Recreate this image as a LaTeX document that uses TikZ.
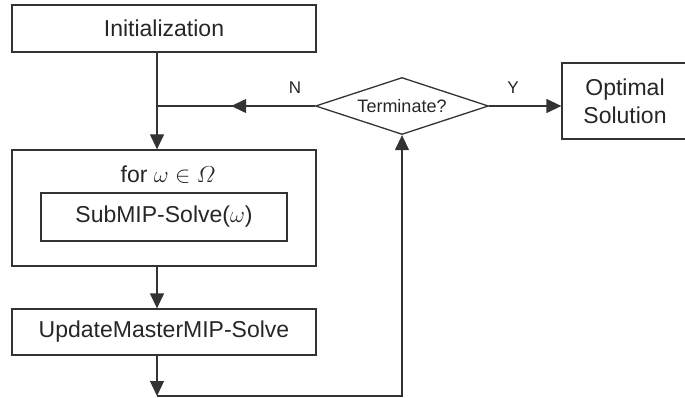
\documentclass[tikz,border=0pt]{standalone}
\usepackage{fix-cm}
\usepackage{amsmath}
\usepackage{fontspec}
\setmainfont{Liberation Sans}
\usetikzlibrary{shapes.geometric,arrows.meta,decorations.markings}

\begin{document}
\begin{tikzpicture}[
	x=1pt, y=-1pt,
	line width=1.3pt, draw=black!80, text=black!85,
	font=\fontsize{23}{28}\selectfont,
	block/.style={ rectangle, draw, inner sep=0pt, minimum width=304pt, minimum height=47pt },
	decision/.style={ diamond, draw, shape aspect=3, inner sep=0pt, minimum width=173pt, minimum height=57pt, font=\fontsize{18}{22}\selectfont },
	flowlabel/.style={ inner sep=0pt, font=\fontsize{17}{20}\selectfont },
	arrow/.style={ -{Triangle[length=15pt,width=14pt]} },
	midarrow/.style={ postaction={decorate}, decoration={ markings, mark=at position 0.53 with {\arrow{Triangle[length=15pt,width=14pt]}} } }
]
\useasboundingbox (0,0) rectangle (685,398);

\node at (164,28.5) (init) [block] {Initialization};
\node at (164,208) (loop) [block,minimum height=116pt] {};
\node at (168,175) (forall) [inner sep=0pt] {for $\omega\in\varOmega$};
\node at (164,217) (sub) [block,minimum width=246pt,minimum height=48pt] {SubMIP-Solve($\omega$)};
\node at (164,332) (update) [block,minimum height=46pt] {UpdateMasterMIP-Solve};
\node at (402,106) (term) [decision] {Terminate?};
\node at (625,101) (opt) [block,minimum width=126pt,minimum height=76pt,align=center] {Optimal\\Solution};
\node at (295,88) (nlab) [flowlabel] {N};
\node at (513,88) (ylab) [flowlabel] {Y};

\coordinate (jn) at (157,106);
\coordinate (bot) at (157,396);

\draw (init.south -| jn) -- (jn);
\draw[arrow] (jn) -- (loop.north -| jn);
\draw[midarrow] (term.west) -- (jn);
\draw[arrow] (loop.south -| jn) -- (update.north -| jn);
\draw[arrow] (update.south -| jn) -- (bot);
\draw[arrow] (bot) -- (term.south |- bot) -- (term.south);
\draw[arrow] (term.east) -- (term.east -| opt.west);

\end{tikzpicture}
\end{document}
